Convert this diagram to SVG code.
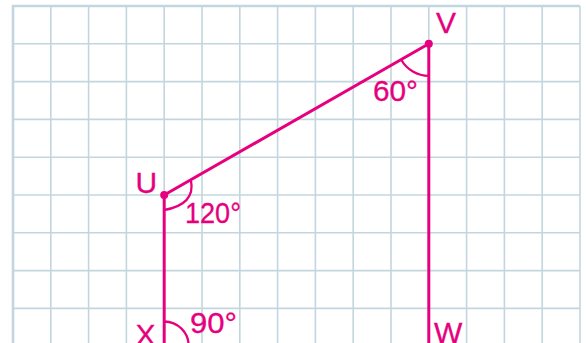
<svg xmlns="http://www.w3.org/2000/svg" width="586" height="343" viewBox="0 0 586 343">
<style>
.g{stroke:#c3d6df;stroke-width:1.6;fill:none}
.gb{stroke:#c3d6df;stroke-width:2.6;fill:none}
.e{stroke:#e6007e;stroke-width:3;fill:none;stroke-linecap:round}
.a{stroke:#e6007e;stroke-width:2.3;fill:none}
.d{fill:#e6007e}
text{font-family:"Liberation Sans",Arial,sans-serif;font-size:30px;fill:#e6007e;stroke:#e6007e;stroke-width:0.3}
</style>
<rect width="586" height="343" fill="#ffffff"/>
<g id="grid">
<path class="g" d="M50.8 6V343M88.6 6V343M126.4 6V343M164.2 6V343M202 6V343M239.8 6V343M277.6 6V343M315.4 6V343M353.2 6V343M391 6V343M428.8 6V343M466.6 6V343M504.4 6V343M542.2 6V343M580 6V343"/>
<path class="g" d="M13 43.8H580M13 81.6H580M13 119.4H580M13 157.2H580M13 195H580M13 232.8H580M13 270.6H580M13 308.4H580"/>
<path class="gb" d="M13 343V6H580"/>
</g>
<g id="connectors">
<line class="e" x1="164.2" y1="195" x2="428.8" y2="43.8"/>
<line class="e" x1="164.2" y1="195" x2="164.2" y2="346"/>
<line class="e" x1="428.8" y1="43.8" x2="428.8" y2="346"/>
<line class="e" x1="164.2" y1="345.5" x2="428.8" y2="345.5"/>
</g>
<g id="angles">
<path class="a" d="M401.2 59.7 A32 32 0 0 0 428.8 75.8"/>
<path class="a" d="M191 180.8 Q195.6 204.3 164.2 210"/>
<path class="a" d="M164.2 321.5 A24.5 24.5 0 0 1 188.7 346"/>
</g>
<g id="node-V">
<circle class="d" cx="428.8" cy="43.8" r="4"/>
<text x="436" y="33">V</text>
<text x="373" y="101" textLength="45" lengthAdjust="spacingAndGlyphs">60°</text>
</g>
<g id="node-U">
<circle class="d" cx="164.2" cy="195" r="4"/>
<text x="135.5" y="193">U</text>
<text x="185" y="223" textLength="56" lengthAdjust="spacingAndGlyphs">120°</text>
</g>
<g id="node-X">
<text x="135.5" y="345">X</text>
<text x="190" y="333" textLength="47" lengthAdjust="spacingAndGlyphs">90°</text>
</g>
<g id="node-W">
<text x="434" y="343">W</text>
</g>
</svg>
